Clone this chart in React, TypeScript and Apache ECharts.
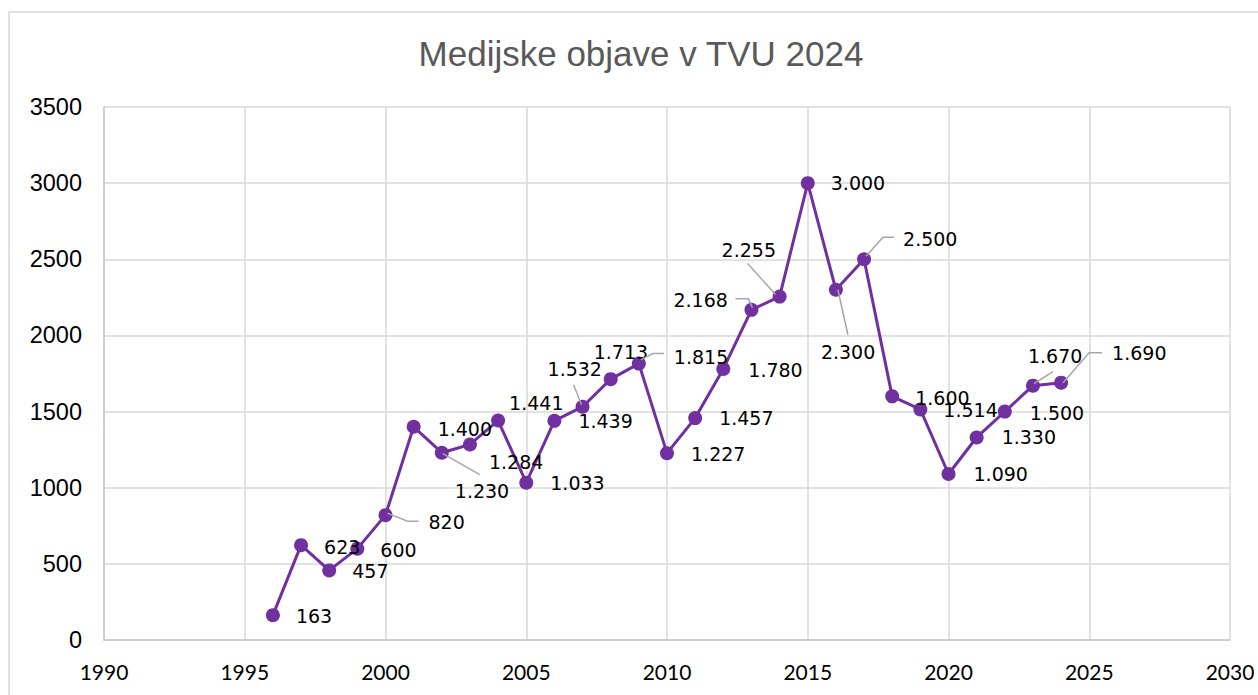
import React, { useEffect, useRef } from 'react';
import * as echarts from 'echarts';

const chartTitle = 'Medijske objave v TVU 2024';
const years = [1996, 1997, 1998, 1999, 2000, 2001, 2002, 2003, 2004, 2005, 2006, 2007, 2008, 2009, 2010, 2011, 2012, 2013, 2014, 2015, 2016, 2017, 2018, 2019, 2020, 2021, 2022, 2023, 2024];
const values = [163, 623, 457, 600, 820, 1400, 1230, 1284, 1441, 1033, 1439, 1532, 1713, 1815, 1227, 1457, 1780, 2168, 2255, 3000, 2300, 2500, 1600, 1514, 1090, 1330, 1500, 1670, 1690];
const xMin = 1990;
const xMax = 2030;
const xStep = 5;
const yMin = 0;
const yMax = 3500;
const yStep = 500;

// label placement (pixel shifts from default right-hand position), styling only
const labelShift: [number, number][] = [
  [0, 1], [0, 2], [0, 1], [0, 1], [20, 7], [1, 2], [-10, 38], [-4, 18], [-12, -18], [1, 0],
  [1, 0], [-58, -38], [-40, -27], [12, -7], [1, 1], [1, 0], [2, 1], [-101, -10], [-81, -47], [0, 0],
  [-38, 62], [16, -20], [0, 2], [0, 1], [2, 0], [2, 0], [2, 1], [-28, -30], [28, -30],
];
// leader-line shapes (pixel offsets from each point's centre), styling only
const leaderShapes: Record<number, [number, number][]> = {
  4: [[2, -2], [22, 6], [33, 6]],
  6: [[1, 1], [38, 22]],
  11: [[-9, -22], [-1, -2]],
  13: [[2, -4], [14, -10], [25, -10]],
  17: [[-16, -11], [-3, -11], [1, -2]],
  18: [[-32, -33], [-4, -2]],
  20: [[2, 0], [12, 45]],
  21: [[2, -3], [19, -22], [30, -22]],
  27: [[1, -2], [20, -14]],
  28: [[2, 0], [28, -30], [41, -30]],
};

const fmt = (v: number) => String(v).replace(/\B(?=(\d{3})+(?!\d))/g, '.');

export default function App() {
  const ref = useRef<HTMLDivElement>(null);
  useEffect(() => {
    if (!ref.current) return;
    const chart = echarts.init(ref.current, undefined, { renderer: 'svg' });
    const data = years.map((y, i) => [y, values[i]]);
    const leaderData = Object.keys(leaderShapes).map((k) => {
      const i = Number(k);
      return [years[i], values[i], i];
    });
    chart.setOption({
      animation: false,
      backgroundColor: '#ffffff',
      title: {
        text: chartTitle,
        left: 636,
        top: 31,
        textAlign: 'center',
        textStyle: { fontFamily: 'Liberation Sans', fontSize: 35, fontWeight: 'normal', color: '#595959' },
      },
      graphic: [
        {
          type: 'rect',
          shape: { x: 9, y: 12, width: 1300, height: 720 },
          style: { fill: 'none', stroke: '#d9d9d9', lineWidth: 1.5 },
          silent: true,
          z: -10,
        },
      ],
      grid: { left: 104, right: 28, top: 107, bottom: 55, containLabel: false },
      xAxis: {
        type: 'value',
        min: xMin,
        max: xMax,
        interval: xStep,
        axisLine: { show: true, lineStyle: { color: '#c8c8c8', width: 1.5 } },
        axisTick: { show: false },
        splitLine: { show: true, lineStyle: { color: '#d9d9d9', width: 1.5 } },
        axisLabel: { margin: 21, fontFamily: 'Lato', fontSize: 21, color: '#000000', formatter: (v: number) => String(v) },
      },
      yAxis: {
        type: 'value',
        min: yMin,
        max: yMax,
        interval: yStep,
        axisLine: { show: true, lineStyle: { color: '#c8c8c8', width: 1.5 } },
        axisTick: { show: false },
        splitLine: { show: true, lineStyle: { color: '#d9d9d9', width: 1.5 } },
        axisLabel: { margin: 22, fontFamily: 'Liberation Sans', fontSize: 23.5, color: '#000000', formatter: (v: number) => String(v) },
      },
      series: [
        {
          type: 'line',
          data,
          showSymbol: true,
          symbol: 'circle',
          symbolSize: 14,
          z: 2,
          lineStyle: { color: '#7030a0', width: 3 },
          itemStyle: { color: '#7030a0' },
          label: {
            show: true,
            position: 'right',
            distance: 16,
            fontFamily: 'DejaVu Sans',
            fontSize: 19,
            color: '#000000',
            formatter: (p: any) => fmt(p.value[1]),
          },
          labelLayout: (p: any) => {
            const s = labelShift[p.dataIndex] || [0, 0];
            return { dx: s[0], dy: s[1] };
          },
        },
        {
          type: 'custom',
          data: leaderData,
          z: 3,
          silent: true,
          encode: { x: 0, y: 1 },
          renderItem: (params: any, api: any) => {
            const c = api.coord([api.value(0), api.value(1)]);
            const shape = leaderShapes[api.value(2)] || [];
            return {
              type: 'polyline',
              shape: { points: shape.map(([dx, dy]) => [c[0] + dx, c[1] + dy]) },
              style: { stroke: '#a6a6a6', lineWidth: 1.5, fill: 'none' },
            };
          },
        },
      ],
    });
    return () => chart.dispose();
  }, []);
  return <div ref={ref} style={{ position: 'absolute', left: 0, top: 0, width: 1258, height: 695 }} />;
}
